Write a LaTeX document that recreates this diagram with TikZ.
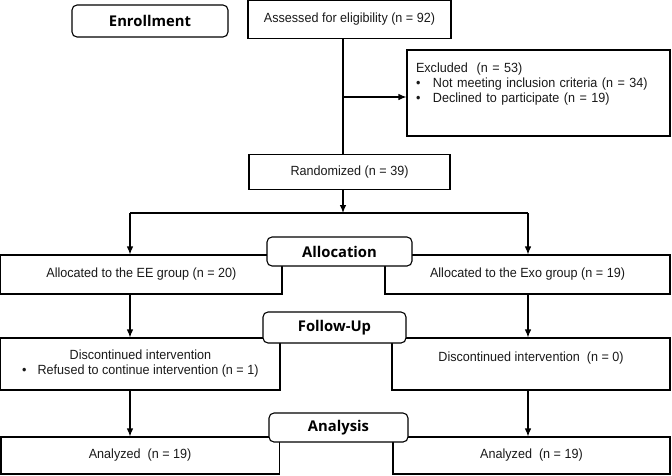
\documentclass[tikz,border=0pt]{standalone}
\usepackage{fontspec}
\setmainfont{Liberation Sans}[FakeStretch=0.947]
\newfontfamily\stagefont{Open Sans}
\usetikzlibrary{positioning,arrows.meta}

\tikzset{
  box/.style={draw, line width=1.1pt, rectangle, inner sep=0pt, text=black!90,
    font=\fontsize{13.3}{15}\selectfont},
  stage/.style={draw, line width=1.1pt, rounded corners=5pt, fill=white, inner sep=0pt,
    font=\stagefont\bfseries\fontsize{14.8}{17}\selectfont},
  link/.style={line width=1.1pt},
  flow/.style={link, -{Latex[length=8pt,width=6.5pt]}},
}
\newcommand{\bulletitem}{\makebox[17pt][l]{\textbullet}}

\begin{document}
\begin{tikzpicture}[x=1pt, y=-1pt]
\useasboundingbox (0,0) rectangle (672,475);

	\node [box, minimum width=203pt, minimum height=38pt] (assess) at (349.5,19.5)
		{Assessed for eligibility (n = 92)};
	\node [box, minimum width=263pt, minimum height=86pt, text width=245pt, align=left] (excl) at (538.5,93)
		{Excluded~~(n = 53)\\
		 \bulletitem Not meeting inclusion criteria (n = 34)\\
		 \bulletitem Declined to participate (n = 19)\\[6pt]\mbox{}};
	\node [box, minimum width=201pt, minimum height=35pt, below=115pt of assess] (rand)
		{Randomized (n = 39)};

	\node [box, minimum width=281.2pt, minimum height=39pt] (ee) at (141.4,274.5)
		{Allocated to the EE group (n = 20)};
	\node [box, minimum width=285pt, minimum height=39pt] (exo) at (527.5,274.5)
		{Allocated to the Exo group (n = 19)};

	\node [box, minimum width=279.2pt, minimum height=52pt, align=center] (discL) at (140.4,364)
		{Discontinued intervention\\ \textbullet\hspace{11pt}Refused to continue intervention (n = 1)};
	\node [box, minimum width=278pt, minimum height=52pt, align=center] (discR) at (531,364)
		{Discontinued intervention~~(n = 0)\\ \mbox{}};

	\node [box, minimum width=278.2pt, minimum height=37pt] (anL) at (140.1,455.5)
		{Analyzed~~(n = 19)};
	\node [box, minimum width=277pt, minimum height=37pt] (anR) at (531.5,455.5)
		{Analyzed~~(n = 19)};

	\node [stage, minimum width=156pt, minimum height=32pt] (enrol) at (150,21) {Enrollment};
	\node [stage, minimum width=145pt, minimum height=29pt] (alloc) at (339.5,251.5) {Allocation};
	\node [stage, minimum width=143pt, minimum height=31pt] (follow) at (334.5,327.5) {Follow-Up};
	\node [stage, minimum width=139pt, minimum height=29pt] (analysis) at (338.5,427.5) {Analysis};

	\coordinate (trunk) at (343,0);
	\coordinate (split) at (343,97);
	\coordinate (fork) at (343,213);
	\coordinate (lcol) at (130,0);
	\coordinate (rcol) at (528,0);

	\draw [link] (trunk |- assess.south) -- (trunk |- rand.north);
	\draw [flow] (split) -- (split -| excl.west);
	\draw [flow] (trunk |- rand.south) -- (fork);
	\draw [link] (fork -| lcol) -- (fork -| rcol);

	\draw [flow] (fork -| lcol) -- (lcol |- ee.north);
	\draw [flow] (fork -| rcol) -- (rcol |- exo.north);
	\draw [flow] (lcol |- ee.south) -- (lcol |- discL.north);
	\draw [flow] (rcol |- exo.south) -- (rcol |- discR.north);
	\draw [flow] (lcol |- discL.south) -- (lcol |- anL.north);
	\draw [flow] (rcol |- discR.south) -- (rcol |- anR.north);

\end{tikzpicture}
\end{document}
